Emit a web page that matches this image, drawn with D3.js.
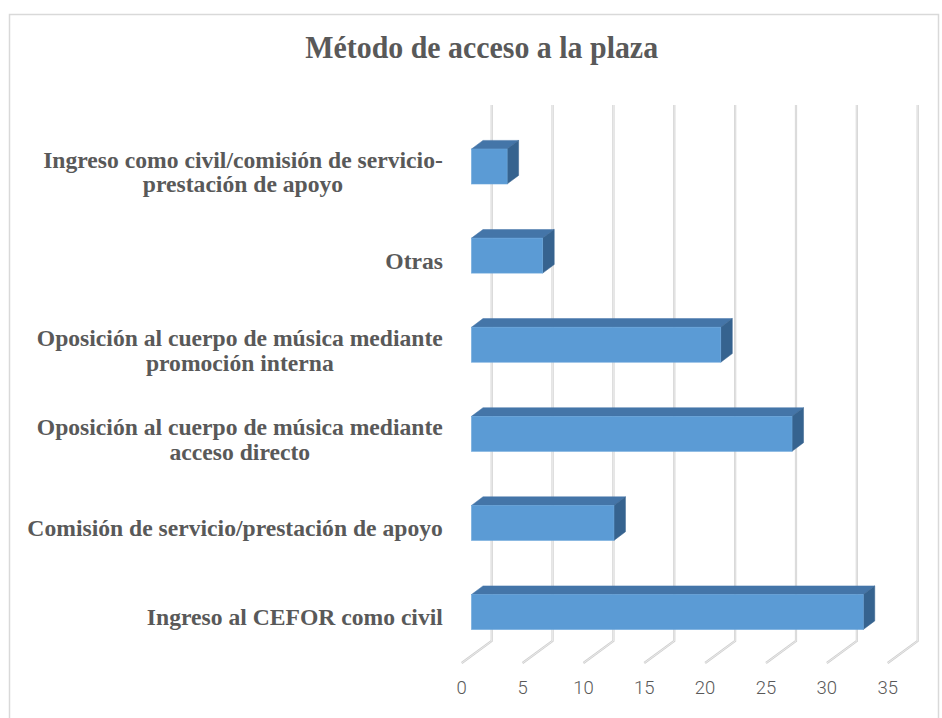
<!DOCTYPE html>
<html>
<head>
<meta charset="utf-8">
<script src="https://cdn.jsdelivr.net/npm/d3@7"></script>
<style>
  html, body { margin: 0; padding: 0; background: #fff; }
  svg { display: block; }
</style>
</head>
<body>
<script>
// ---- Data ----
const title = "Método de acceso a la plaza";
const categories = [
  "Ingreso al CEFOR como civil",
  "Comisión de servicio/prestación de apoyo",
  "Oposición al cuerpo de música mediante acceso directo",
  "Oposición al cuerpo de música mediante promoción interna",
  "Otras",
  "Ingreso como civil/comisión de servicio-prestación de apoyo"
];
const categoryLines = [
  ["Ingreso al CEFOR como civil"],
  ["Comisión de servicio/prestación de apoyo"],
  ["Oposición al cuerpo de música mediante", "acceso directo"],
  ["Oposición al cuerpo de música mediante", "promoción interna"],
  ["Otras"],
  ["Ingreso como civil/comisión de servicio-", "prestación de apoyo"]
];
const values = [33, 12, 27, 21, 6, 3];
const tickValues = [0, 5, 10, 15, 20, 25, 30, 35];

// ---- Layout ----
const W = 942, H = 718;
const svg = d3.select("body").append("svg").attr("width", W).attr("height", H);

// outer border
svg.append("path")
  .attr("d", `M9.5,${H} V14.5 H938.5 V${H}`)
  .attr("fill", "none").attr("stroke", "#d9d9d9").attr("stroke-width", 1.5);

// scales
const xBack = d3.scaleLinear().domain([0, 35]).range([491.7, 917.7]);   // back wall
const xFront = d3.scaleLinear().domain([0, 35]).range([471.5, 887]);    // bar front plane
const y = d3.scalePoint().domain(categories.slice().reverse()).range([166.5, 612]);
const barH = 35, depthX = 11.5, depthY = 8.6;
const gridTop = 105, gridBottom = 641, floorDX = -30, floorDY = 22;

// gridlines (back wall + floor)
const grid = svg.append("g");
tickValues.forEach(v => {
  const xb = xBack(v);
  const d = `M${xb},${gridTop} V${gridBottom} L${xb + floorDX},${gridBottom + floorDY}`;
  grid.append("path").attr("d", d).attr("fill", "none")
    .attr("stroke", "#cfcfcf").attr("stroke-width", 2.2);
  grid.append("path").attr("d", d).attr("fill", "none")
    .attr("stroke", "#f0f0f0").attr("stroke-width", 0.8);
});

// tick labels
svg.append("g").selectAll("text").data(tickValues).join("text")
  .attr("x", d => xBack(d) + floorDX)
  .attr("y", 694)
  .attr("text-anchor", "middle")
  .attr("font-family", "Roboto, sans-serif")
  .attr("font-weight", 300)
  .attr("font-size", 18.5)
  .attr("fill", "#595959")
  .text(d => d);

// bars
const bars = svg.append("g");
categories.forEach((c, i) => {
  const v = values[i];
  const x0 = xFront(0), x1 = xFront(v);
  const yt = y(c) - barH / 2, yb = y(c) + barH / 2;
  const g = bars.append("g");
  // top face
  g.append("path")
    .attr("d", `M${x0},${yt} L${x0 + depthX},${yt - depthY} L${x1 + depthX},${yt - depthY} L${x1},${yt} Z`)
    .attr("fill", "#4475A8").attr("stroke", "#4475A8").attr("stroke-width", 0.5);
  // side face
  g.append("path")
    .attr("d", `M${x1},${yt} L${x1 + depthX},${yt - depthY} L${x1 + depthX},${yb - depthY} L${x1},${yb} Z`)
    .attr("fill", "#36638F").attr("stroke", "#36638F").attr("stroke-width", 0.5);
  // front face
  g.append("rect")
    .attr("x", x0).attr("y", yt).attr("width", x1 - x0).attr("height", barH)
    .attr("fill", "#5B9BD5").attr("stroke", "#6aa6db").attr("stroke-width", 0.6);
});

// category labels
const labelFont = "'Liberation Serif', 'Times New Roman', serif";
const labelRight = 443;
const lg = svg.append("g");
const labelGroups = [];
categories.forEach((c, i) => {
  const lines = categoryLines[i];
  const g = lg.append("g");
  const n = lines.length;
  lines.forEach((t, j) => {
    g.append("text")
      .attr("y", y(c) + 13.5 + (j - (n - 1) / 2) * 25)
      .attr("text-anchor", "middle")
      .attr("font-family", labelFont)
      .attr("font-weight", "bold")
      .attr("font-size", 23.5)
      .attr("fill", "#595959")
      .text(t);
  });
  labelGroups.push(g);
});
// horizontal fit to match reference width of first line of top label
const refNode = labelGroups[5].select("text").node();
const sx = 400 / refNode.getComputedTextLength();
labelGroups.forEach(g => {
  let maxW = 0;
  g.selectAll("text").each(function () { maxW = Math.max(maxW, this.getComputedTextLength()); });
  const cx = labelRight - (maxW * sx) / 2;
  g.attr("transform", `translate(${cx},0) scale(${sx},1)`);
});

// title
const tt = svg.append("text")
  .attr("y", 58)
  .attr("text-anchor", "middle")
  .attr("font-family", labelFont)
  .attr("font-weight", "bold")
  .attr("font-size", 31)
  .attr("fill", "#595959")
  .text(title);
const tsx = 353 / tt.node().getComputedTextLength();
tt.attr("transform", `translate(481.7,0) scale(${tsx},1)`);
</script>
</body>
</html>
